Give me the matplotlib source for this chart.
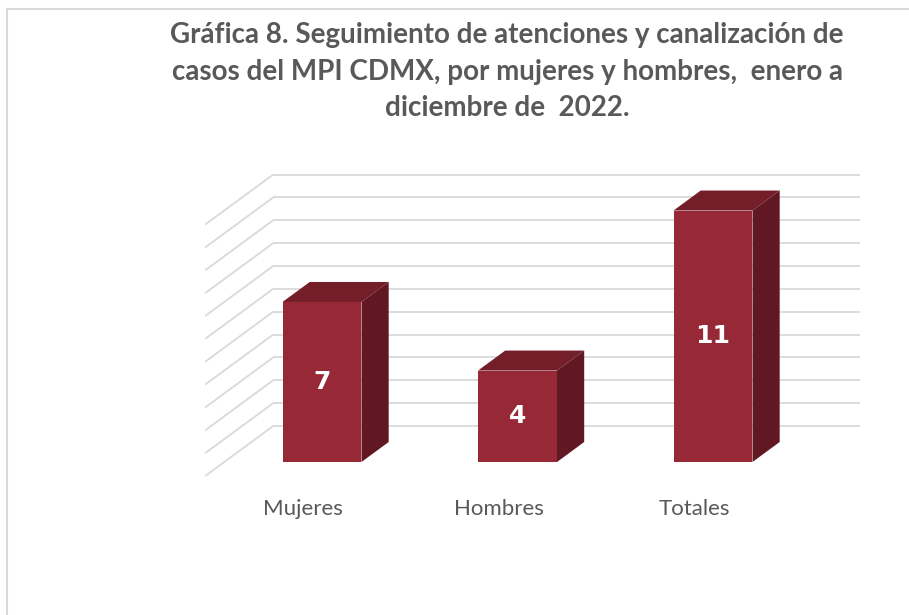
import numpy as np
import matplotlib
matplotlib.use("Agg")
import matplotlib.pyplot as plt
from matplotlib.lines import Line2D

# datos
categorias = ["Mujeres", "Hombres", "Totales"]
valores = [7, 4, 11]
niveles = np.arange(0, 12)  # lineas de la pared del fondo
titulo = ("Gráfica 8. Seguimiento de atenciones y canalización de\n"
          "casos del MPI CDMX, por mujeres y hombres,  enero a\n"
          "diciembre de  2022.")

# colores
c_frente = "#972836"
c_arriba = "#741E29"
c_lado = "#611822"
c_grid = "#D9D9D9"
c_texto = "#595959"

W, H = 909, 615
fig = plt.figure(figsize=(W / 100, H / 100), dpi=100)
ax = fig.add_axes([0, 0, 1, 1])

# escala: 1 categoria = 195.5 px, 1 unidad = 22.86 px, cero en y=462 px
px_x, px_y = 195.5, 22.86
x0, y0 = 322, 462
ax.set_xlim((0 - x0) / px_x, (W - x0) / px_x)
ax.set_ylim((y0 - H) / px_y, (y0 - 0) / px_y)
ax.axis("off")

# vector de profundidad del piso (frente -> fondo), en unidades de datos
Dx, Dy = 68 / px_x, 50 / px_y
f_barra = 0.28      # frente de la barra, desde el frente del piso
prof = 0.40         # profundidad de la barra
ancho = 0.404

# pared izquierda y pared del fondo
bx, by = (1 - f_barra) * Dx, (1 - f_barra) * Dy   # desplazamiento al fondo
fx, fy = -f_barra * Dx, -f_barra * Dy             # desplazamiento al frente
for v in niveles:
    ax.plot([-0.5 + fx, -0.5 + bx], [v + fy, v + by], color=c_grid, lw=1.3,
            solid_capstyle="butt", zorder=1)
    ax.plot([-0.5 + bx, 2.5 + bx], [v + by, v + by], color=c_grid, lw=1.3,
            solid_capstyle="butt", zorder=1)

# barras 3D
dx, dy = prof * Dx, prof * Dy
x = np.arange(len(categorias))
ax.bar(x, valores, width=ancho, color=c_frente, zorder=3)
for xi, v in zip(x, valores):
    l, r = xi - ancho / 2, xi + ancho / 2
    ax.fill([l, r, r + dx, l + dx], [v, v, v + dy, v + dy], color=c_arriba,
            lw=0, zorder=3)
    ax.fill([r, r + dx, r + dx, r], [0, dy, v + dy, v], color=c_lado,
            lw=0, zorder=3)
    ax.text(xi, v / 2, str(v), ha="center", va="center", color="white",
            fontsize=18, fontweight="bold", family="DejaVu Sans", zorder=4)

# etiquetas de categoria
for xi, cat in zip(x, categorias):
    ax.text(xi + fx, fy - 33 / px_y, cat, ha="center", va="center",
            color=c_texto, fontsize=16, family="Lato")

# titulo
fig.text(507 / W, 1 - 72 / H, titulo, ha="center", va="center",
         fontsize=20, fontweight="bold", family="Lato", color=c_texto,
         linespacing=1.5)

# borde del grafico
fig.add_artist(Line2D([7 / W, 7 / W], [0, 1 - 9 / H], color=c_grid, lw=1.5))
fig.add_artist(Line2D([7 / W, 1], [1 - 9 / H, 1 - 9 / H], color=c_grid, lw=1.5))

fig.savefig("out.png", dpi=100)
